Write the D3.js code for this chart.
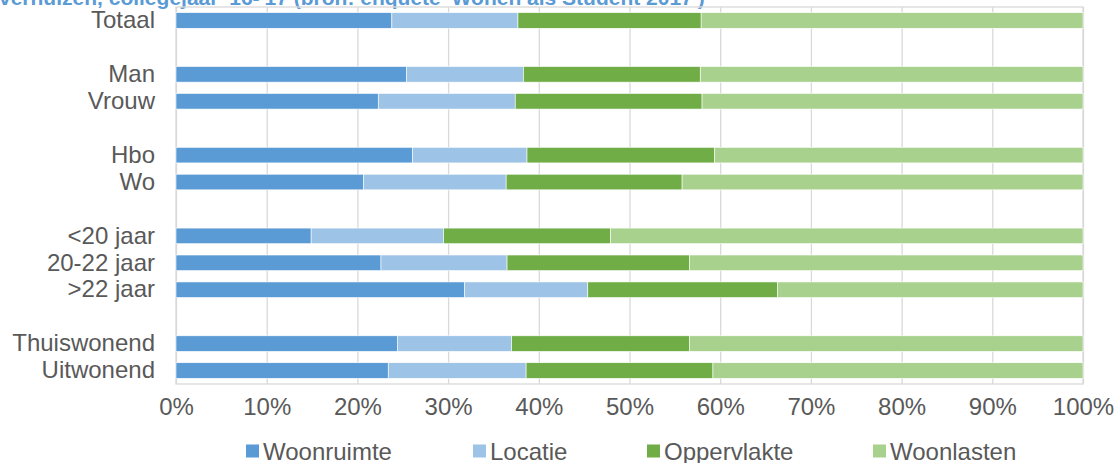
<!DOCTYPE html>
<html>
<head>
<meta charset="utf-8">
<script src="https://cdn.jsdelivr.net/npm/d3@7"></script>
<style>
  html, body { margin: 0; padding: 0; background: #fff; }
  svg { display: block; font-family: "Liberation Sans", Arial, sans-serif; }
</style>
</head>
<body>
<svg id="chart" width="1120" height="463"></svg>
<script>
const title = "verhuizen, collegejaar '16-'17 (bron: enquête 'Wonen als Student 2017')";
const categories = ["Totaal", "", "Man", "Vrouw", " ", "Hbo", "Wo", "  ", "<20 jaar", "20-22 jaar", ">22 jaar", "   ", "Thuiswonend", "Uitwonend"];
const seriesNames = ["Woonruimte", "Locatie", "Oppervlakte", "Woonlasten"];
const woonruimte  = [23.8, null, 25.4, 22.3, null, 26.1, 20.7, null, 14.9, 22.6, 31.8, null, 24.4, 23.4];
const locatie     = [13.9, null, 12.9, 15.1, null, 12.6, 15.7, null, 14.6, 13.9, 13.6, null, 12.6, 15.2];
const oppervlakte = [20.2, null, 19.5, 20.6, null, 20.7, 19.4, null, 18.4, 20.1, 20.9, null, 19.6, 20.6];
const woonlasten  = [42.1, null, 42.2, 42.0, null, 40.6, 44.2, null, 52.1, 43.4, 33.7, null, 43.4, 40.8];
const xTicks = [0, 0.1, 0.2, 0.3, 0.4, 0.5, 0.6, 0.7, 0.8, 0.9, 1.0];
const colors = ["#5B9BD5", "#9DC3E6", "#70AD47", "#A9D18E"];

const svg = d3.select("#chart");
const m = { left: 176, right: 1083, top: 7, bottom: 384 };

const rows = categories.map((c, i) => ({
  cat: c,
  Woonruimte: woonruimte[i], Locatie: locatie[i], Oppervlakte: oppervlakte[i], Woonlasten: woonlasten[i]
}));
const dataRows = rows.filter(r => r.Woonruimte != null);

const x = d3.scaleLinear().domain([0, 1]).range([m.left, m.right]);
const y = d3.scaleBand().domain(categories).range([m.top, m.bottom]).paddingInner(0.42).paddingOuter(0.21);
const color = d3.scaleOrdinal().domain(seriesNames).range(colors);

const stack = d3.stack().keys(seriesNames).offset(d3.stackOffsetExpand);
const stacked = stack(dataRows);

// title (cut off at top, as in the reference)
svg.append("text").attr("x", -1).attr("y", 5)
  .attr("font-size", 21).attr("font-weight", "bold").attr("fill", "#5B9BD5")
  .text(title);

// gridlines
const gridG = svg.append("g").attr("transform", `translate(0,${m.bottom})`)
  .call(d3.axisBottom(x).tickValues(xTicks).tickSize(-(m.bottom - m.top)).tickFormat(""));
gridG.select(".domain").remove();
gridG.selectAll("line").attr("stroke", "#D9D9D9").attr("stroke-width", 1.3);

// plot border
svg.append("rect").attr("x", m.left).attr("y", m.top)
  .attr("width", m.right - m.left).attr("height", m.bottom - m.top)
  .attr("fill", "none").attr("stroke", "#D9D9D9").attr("stroke-width", 1.3);

// bars
svg.append("g").selectAll("g").data(stacked).join("g")
  .attr("fill", d => color(d.key))
  .selectAll("rect").data(d => d).join("rect")
  .attr("x", d => x(d[0]))
  .attr("width", d => x(d[1]) - x(d[0]))
  .attr("y", d => y(d.data.cat))
  .attr("height", y.bandwidth())
  .attr("stroke", "#fff").attr("stroke-width", 0.6);

// x axis labels
const xAxis = svg.append("g").attr("transform", `translate(0,${m.bottom})`)
  .call(d3.axisBottom(x).tickValues(xTicks).tickSize(0).tickPadding(14).tickFormat(d3.format(".0%")));
xAxis.select(".domain").remove();
xAxis.selectAll("text").attr("font-size", 24).attr("fill", "#595959")
  .attr("font-family", "'Liberation Sans', Arial, sans-serif");

// y axis labels
const yAxis = svg.append("g").attr("transform", `translate(${m.left},0)`)
  .call(d3.axisLeft(y).tickSize(0).tickPadding(21));
yAxis.select(".domain").remove();
yAxis.selectAll("text").attr("font-size", 24).attr("fill", "#595959")
  .attr("font-family", "'Liberation Sans', Arial, sans-serif");

// legend
const legendX = [246, 473, 647, 873];
const leg = svg.append("g").selectAll("g").data(seriesNames).join("g")
  .attr("transform", (d, i) => `translate(${legendX[i]},451)`);
leg.append("rect").attr("x", 0).attr("y", -6.5).attr("width", 13).attr("height", 13)
  .attr("fill", d => color(d));
leg.append("text").attr("x", 17).attr("y", 8.5).attr("font-size", 24).attr("fill", "#595959")
  .text(d => d);
</script>
</body>
</html>
